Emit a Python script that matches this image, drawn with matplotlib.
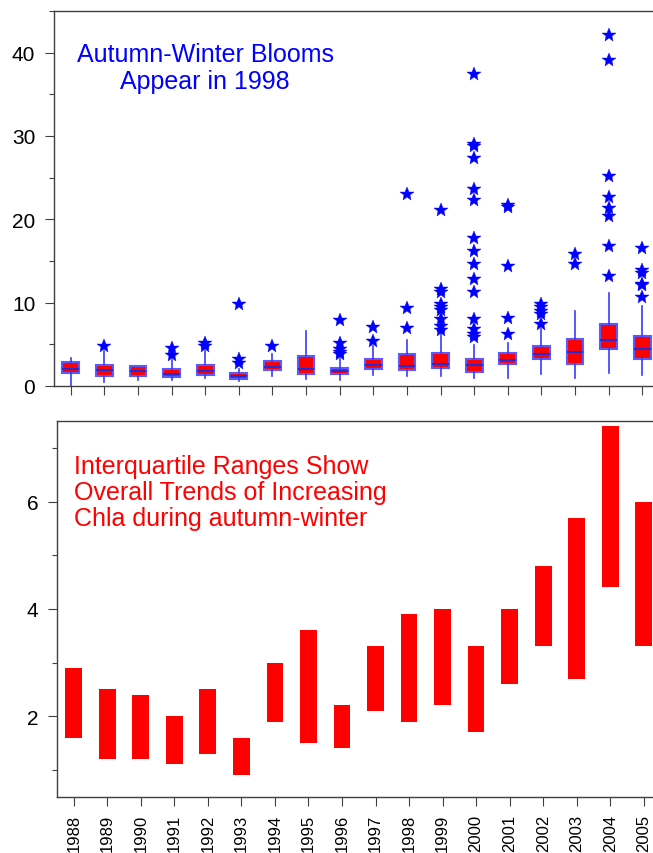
import matplotlib
matplotlib.use("Agg")
import matplotlib.pyplot as plt
from matplotlib.ticker import MultipleLocator

plt.rcParams['font.family'] = ['Liberation Sans', 'DejaVu Sans']

years = list(range(1988, 2006))
q1 = [1.6, 1.2, 1.2, 1.1, 1.3, 0.9, 1.9, 1.5, 1.4, 2.1, 1.9, 2.2, 1.7, 2.6, 3.3, 2.7, 4.4, 3.3]
q3 = [2.9, 2.5, 2.4, 2.0, 2.5, 1.6, 3.0, 3.6, 2.2, 3.3, 3.9, 4.0, 3.3, 4.0, 4.8, 5.7, 7.4, 6.0]
med = [2.0, 1.9, 1.8, 1.4, 1.85, 1.2, 2.3, 2.05, 1.85, 2.5, 2.45, 2.6, 2.5, 3.1, 3.9, 4.1, 5.5, 4.4]
whislo = [0.05, 0.45, 0.7, 0.7, 0.95, 0.6, 1.15, 0.9, 0.7, 1.3, 1.15, 1.15, 0.95, 0.95, 1.45, 0.95, 1.6, 1.3]
whishi = [3.4, 4.2, 2.4, 3.1, 4.2, 2.1, 3.8, 6.6, 3.2, 4.75, 5.5, 6.3, 4.95, 5.2, 6.8, 8.95, 11.2, 9.6]
fliers = [
    [],
    [4.8],
    [],
    [4.55, 3.75],
    [5.2, 4.85],
    [9.8, 3.3, 2.8],
    [4.8],
    [],
    [7.9, 5.2, 4.4, 4.1, 3.9],
    [7.1, 5.4],
    [23.1, 9.4, 7.0],
    [21.1, 11.6, 11.3, 9.9, 9.5, 9.1, 8.0, 7.2, 6.7],
    [37.4, 29.1, 28.8, 27.4, 23.7, 22.3, 17.8, 16.2, 14.7, 12.8, 11.3, 8.1, 6.8, 6.2, 5.9],
    [21.7, 21.5, 14.4, 8.2, 6.3],
    [9.9, 9.5, 9.0, 8.6, 7.5],
    [15.9, 14.7],
    [42.1, 39.1, 25.2, 22.7, 21.4, 20.4, 16.8, 13.2],
    [16.6, 13.9, 13.6, 12.3, 12.1, 10.7],
]

W, H = 653, 854
fig = plt.figure(figsize=(W / 100, H / 100), dpi=100)

# axes run past the right edge like the cropped original
ax1 = fig.add_axes([54 / W, (H - 387) / H, 605 / W, 375 / H])
ax2 = fig.add_axes([57 / W, (H - 797.7) / H, 603.5 / W, 375.7 / H])

stats = []
for i in range(len(years)):
    stats.append(dict(med=med[i], q1=q1[i], q3=q3[i],
                      whislo=whislo[i], whishi=whishi[i], fliers=fliers[i]))

ax1.bxp(stats, positions=years, widths=0.5, patch_artist=True, showcaps=False,
        boxprops=dict(facecolor='red', edgecolor='#5a5aff', linewidth=1.5),
        medianprops=dict(color='#2a2ad0', linewidth=1.5),
        whiskerprops=dict(color='#3a3aff', linewidth=1.2),
        flierprops=dict(marker='*', markerfacecolor='blue', markeredgecolor='blue',
                        markeredgewidth=0.3, markersize=10))

ax1.set_xlim(1987.5, 2005.5)
ax1.set_ylim(0, 45)
ax1.set_xticks(years)
ax1.set_xticklabels([])
ax1.yaxis.set_major_locator(MultipleLocator(10))
ax1.yaxis.set_minor_locator(MultipleLocator(5))
ax1.text(1992.0, 38.2, "Autumn-Winter Blooms\nAppear in 1998", color='blue',
         fontsize=18, ha='center', va='center', linespacing=1.13)

ax2.bar(years, [b - a for a, b in zip(q1, q3)], bottom=q1, width=0.5, color='red')
ax2.set_xlim(1987.5, 2005.5)
ax2.set_ylim(0.5, 7.5)
ax2.set_xticks(years)
ax2.set_xticklabels([str(y) for y in years], rotation=90, va='top')
ax2.yaxis.set_major_locator(MultipleLocator(2))
ax2.yaxis.set_minor_locator(MultipleLocator(1))
ax2.text(1988.0, 6.18, "Interquartile Ranges Show\nOverall Trends of Increasing\nChla during autumn-winter",
         color='red', fontsize=18, ha='left', va='center', linespacing=1.1)

for ax in (ax1, ax2):
    ax.spines['right'].set_visible(False)
    for s in ('left', 'top', 'bottom'):
        ax.spines[s].set_color('#404040')
        ax.spines[s].set_linewidth(1.0)
    ax.tick_params(axis='both', which='major', length=6.5, width=0.8, color='#404040',
                   labelsize=15)
    ax.tick_params(axis='y', which='minor', length=3.3, width=0.8, color='#404040')
    ax.tick_params(axis='y', which='major', pad=7)
    ax.tick_params(axis='x', which='major', pad=6)

ax2.tick_params(axis='x', labelsize=12)

fig.savefig("out.png", dpi=100)
